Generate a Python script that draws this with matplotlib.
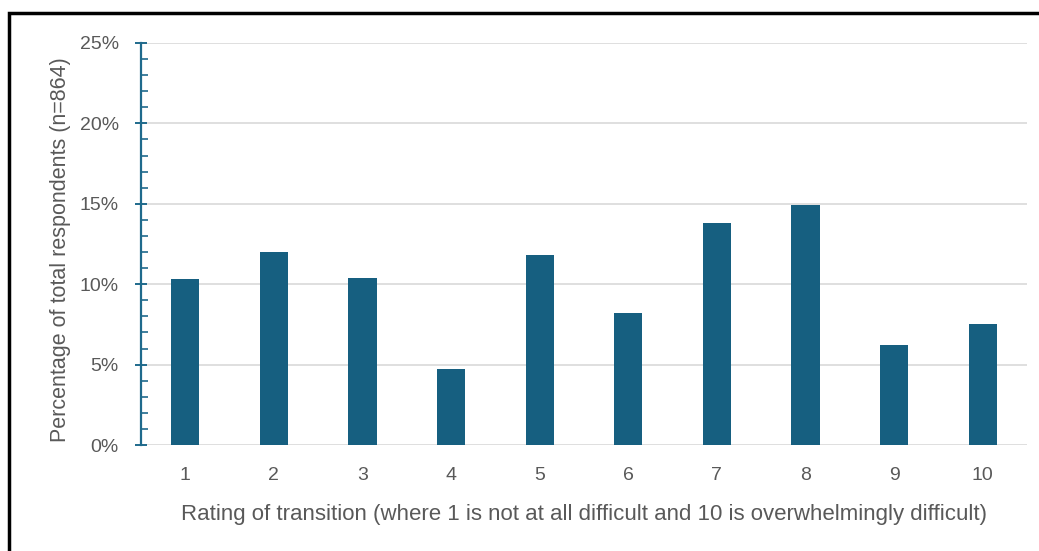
import numpy as np
import matplotlib.pyplot as plt
from matplotlib.patches import Rectangle
from matplotlib.ticker import MultipleLocator, PercentFormatter

# data
ratings = ['1', '2', '3', '4', '5', '6', '7', '8', '9', '10']
pct = [10.3, 12.0, 10.4, 4.7, 11.8, 8.2, 13.8, 14.9, 6.2, 7.5]

bar_color = '#165F80'
text_color = '#595959'
axis_color = '#1F6A8C'

plt.rcParams['font.family'] = ['Liberation Sans', 'DejaVu Sans']

fig = plt.figure(figsize=(10.39, 5.51), dpi=100)
ax = fig.add_axes([141 / 1039, 1 - 445 / 551, (1027 - 141) / 1039, (445 - 43) / 551])

x = np.arange(len(ratings))
ax.bar(x, pct, width=0.32, color=bar_color, zorder=3)

ax.set_xlim(-0.5, len(ratings) - 0.5)
ax.set_ylim(0, 25)
ax.yaxis.set_major_locator(MultipleLocator(5))
ax.yaxis.set_minor_locator(MultipleLocator(1))
ax.yaxis.set_major_formatter(PercentFormatter(decimals=0))
ax.grid(axis='y', color='#D9D9D9', linewidth=1.2, zorder=0)

ax.set_xticks(x)
ax.set_xticklabels(ratings)

for s in ['top', 'right', 'bottom']:
    ax.spines[s].set_visible(False)
ax.spines['left'].set_color(axis_color)
ax.spines['left'].set_linewidth(1.6)

ax.tick_params(axis='y', which='major', direction='inout', length=8, width=1.4,
               color=axis_color, labelsize=14, labelcolor=text_color, pad=12)
ax.tick_params(axis='y', which='minor', direction='in', length=5, width=1.2,
               color=axis_color)
ax.tick_params(axis='x', length=0, labelsize=14, labelcolor=text_color, pad=16)

ax.set_xlabel('Rating of transition (where 1 is not at all difficult and 10 is overwhelmingly difficult)',
              fontsize=16, color=text_color, labelpad=14)
ax.set_ylabel('Percentage of total respondents (n=864)', fontsize=15.5,
              color=text_color)
ax.yaxis.set_label_coords(-0.079, 0.485)

# black outer frame (runs off the right and bottom of the image)
fig.patches.append(Rectangle((9 / 1039, -0.05), 1.1, 1 - 13 / 551 + 0.05,
                             transform=fig.transFigure, fill=False,
                             edgecolor='black', linewidth=2.5))

fig.savefig('out.png', dpi=100)
